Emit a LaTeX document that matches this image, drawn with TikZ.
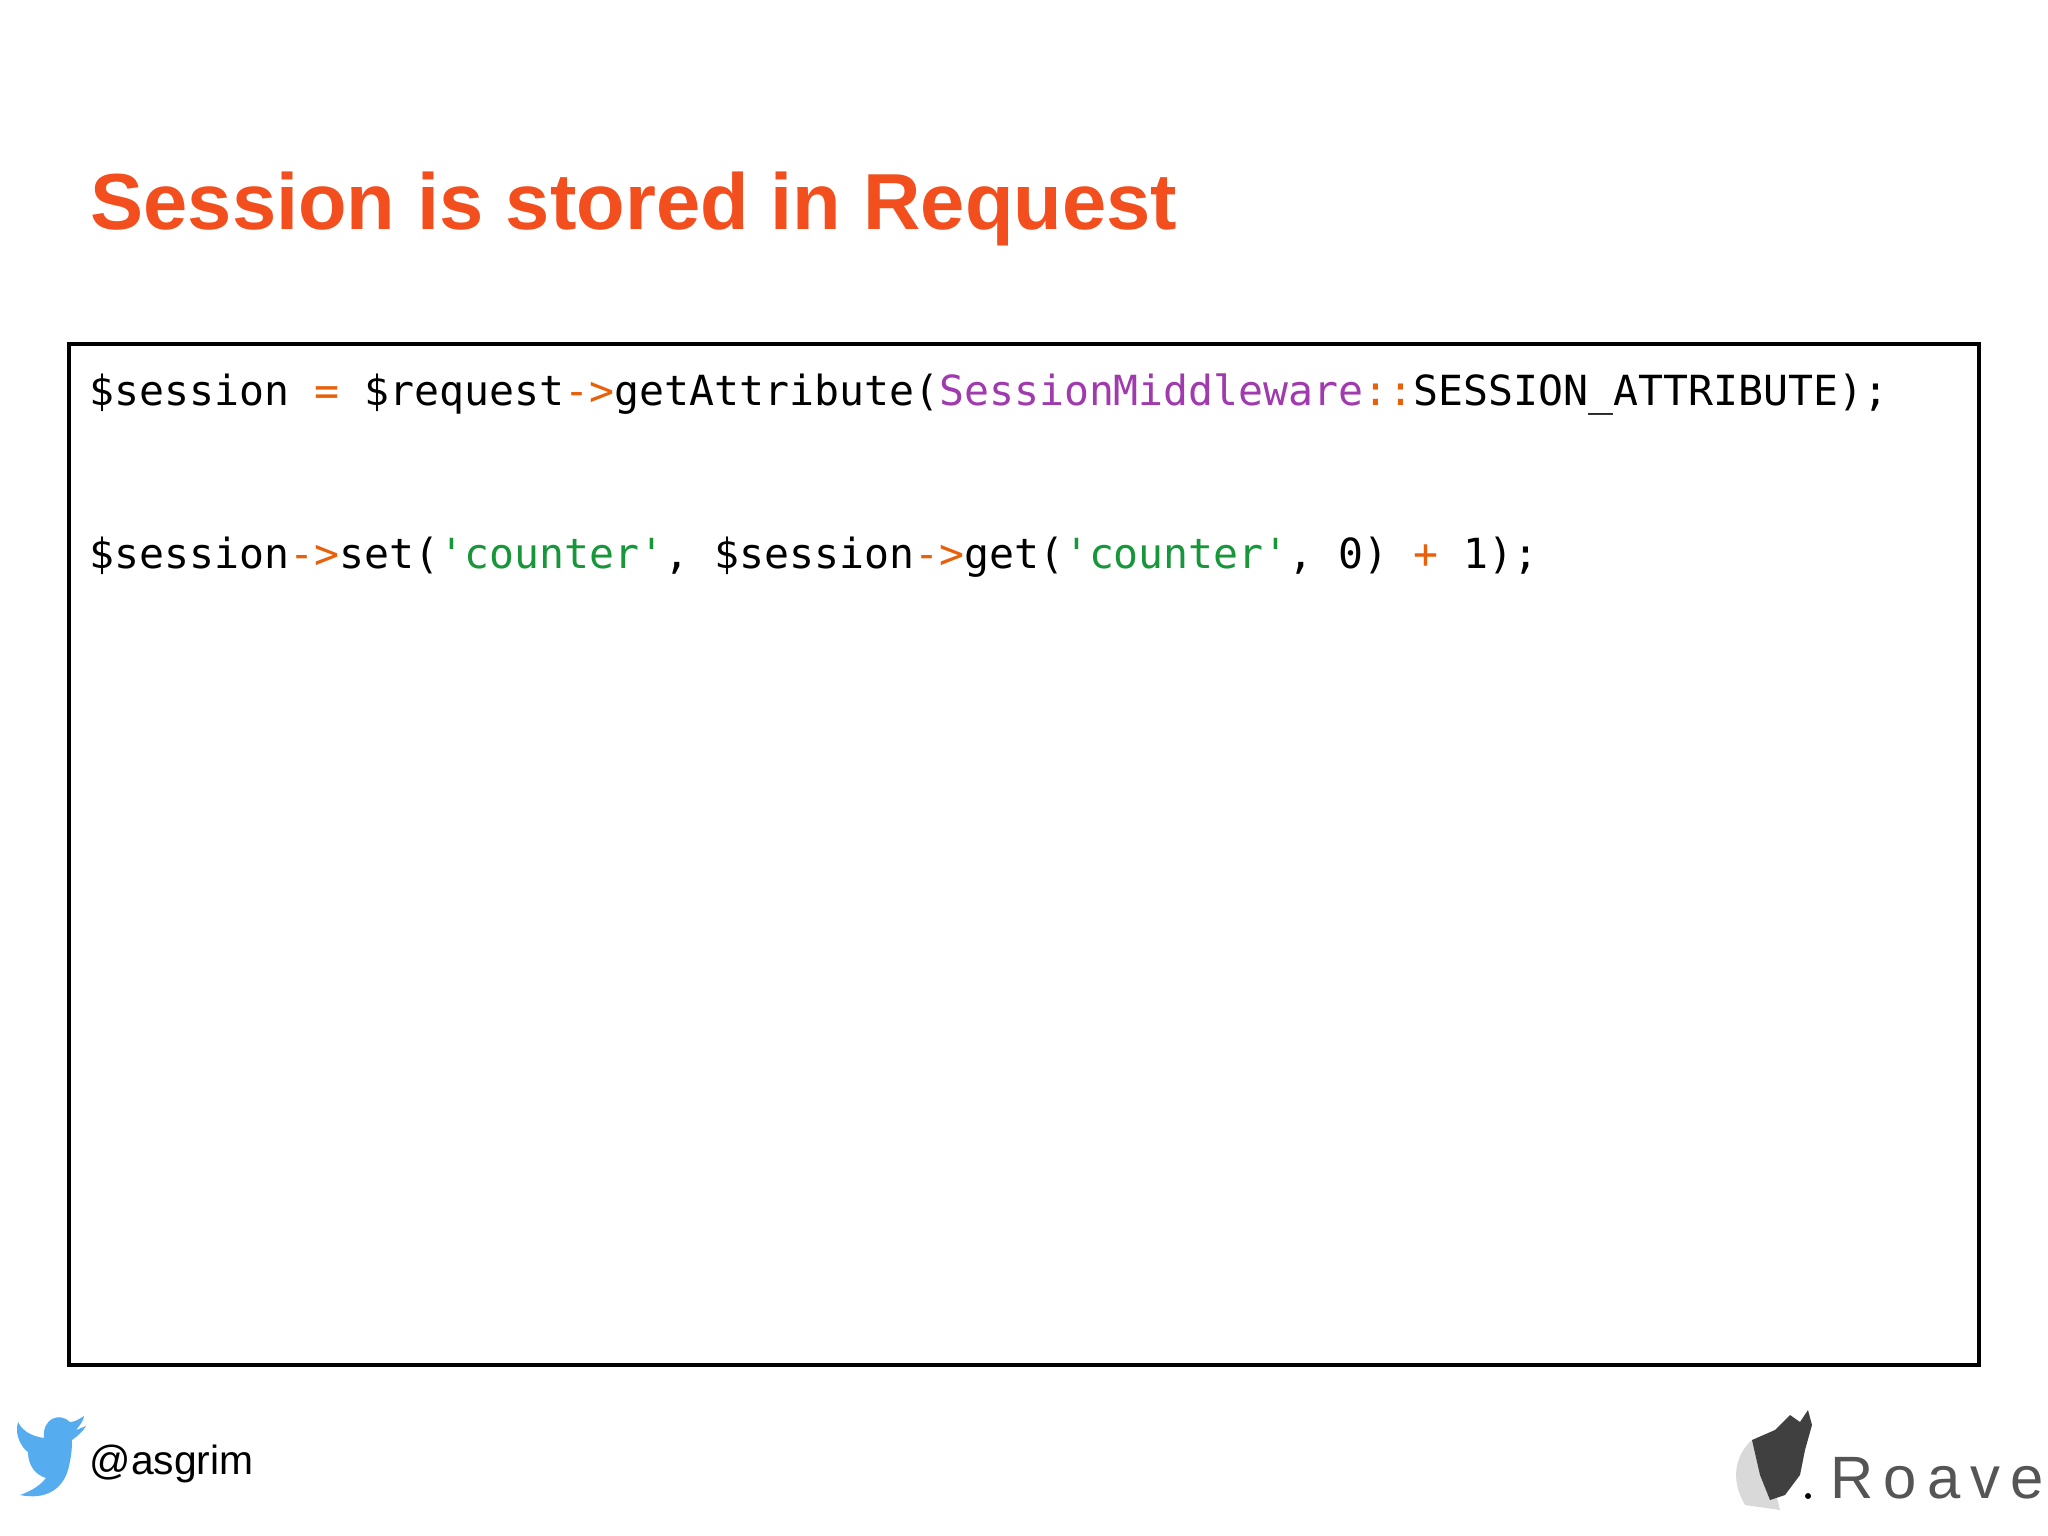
\documentclass[tikz,border=0pt]{standalone}
\usepackage{fontspec}
\setmainfont{Liberation Sans}
\newfontfamily\codefont{DejaVu Sans Mono}
\definecolor{ttl}{HTML}{F24E1E}
\definecolor{opc}{HTML}{E8600A}
\definecolor{purp}{HTML}{A03AAE}
\definecolor{grn}{HTML}{17963A}
\definecolor{tw}{HTML}{55ACEE}
\definecolor{rv}{HTML}{555555}
\tikzset{code/.style={anchor=base west,inner sep=0,font=\codefont\fontsize{11.8}{14}\selectfont}}
\begin{document}
\begin{tikzpicture}[x=0.01cm,y=-0.01cm]
\useasboundingbox (0,0) rectangle (2048,1536);
\fill[white] (0,0) rectangle (2048,1536);
\node[anchor=base west,inner sep=0,text=ttl,font=\bfseries\fontsize{22.6}{27}\selectfont] (title) at (90,229) {Session is stored in Request};
\draw[line width=1.2pt] (69,344) rectangle (1979,1365);
\node[code] (l1) at (89,405) {\$session \textcolor{opc}{=} \$request\textcolor{opc}{->}getAttribute(\textcolor{purp}{SessionMiddleware}\textcolor{opc}{::}SESSION\_ATTRIBUTE);};
\node[code] (l2) at (89,568) {\$session\textcolor{opc}{->}set(\textcolor{grn}{'counter'}, \$session\textcolor{opc}{->}get(\textcolor{grn}{'counter'}, 0) \textcolor{opc}{+} 1);};
% twitter bird
\fill[tw] (20,1495) .. controls (45,1500) and (62,1490) .. (68,1470)
  .. controls (72,1455) and (72,1445) .. (72,1440)
  .. controls (78,1436) and (84,1430) .. (86,1426)
  .. controls (80,1428) and (78,1430) .. (76,1430)
  .. controls (80,1425) and (84,1420) .. (84,1416)
  .. controls (78,1420) and (74,1422) .. (70,1422)
  .. controls (60,1412) and (42,1418) .. (44,1438)
  .. controls (30,1436) and (22,1430) .. (18,1422)
  .. controls (14,1435) and (22,1448) .. (28,1452)
  .. controls (28,1466) and (36,1475) .. (46,1478)
  .. controls (38,1488) and (28,1492) .. (20,1495) -- cycle;
\node[anchor=base west,inner sep=0,font=\fontsize{11.6}{14}\selectfont] (tw) at (89,1474) {@asgrim};
% Roave logo
\fill[black!15] (1745,1505) .. controls (1730,1480) and (1735,1455) .. (1752,1440) -- (1770,1470) -- (1780,1510) -- cycle;
\fill[black!75] (1752,1440) -- (1775,1430) -- (1790,1415) -- (1800,1422) -- (1808,1410) -- (1812,1425) -- (1805,1450) -- (1800,1475) -- (1785,1495) -- (1770,1500) -- (1760,1475) -- cycle;
\fill[black] (1808,1496) circle (3);
\node[anchor=base west,inner sep=0,text=rv,font=\fontsize{17}{20}\selectfont] (roave) at (1830,1498) {R\,o\,a\,v\,e};
\end{tikzpicture}
\end{document}
